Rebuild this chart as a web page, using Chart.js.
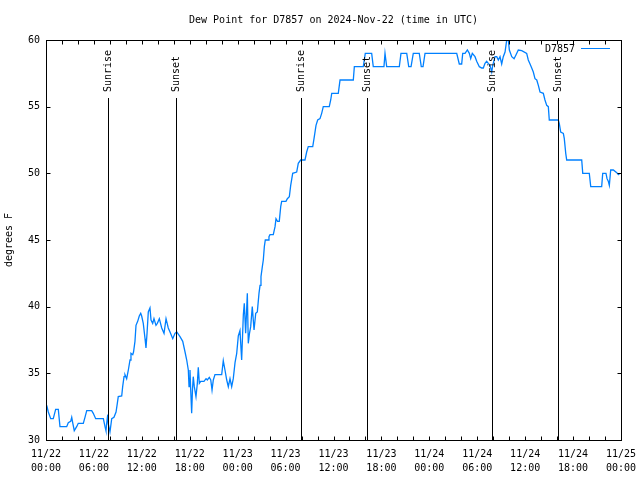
<!DOCTYPE html>
<html>
<head>
<meta charset="utf-8">
<script src="https://cdn.jsdelivr.net/npm/chart.js@4/dist/chart.umd.min.js"></script>
<style>
html,body{margin:0;padding:0;background:#fff;}
canvas{display:block;}
</style>
</head>
<body>
<canvas id="c" width="640" height="480"></canvas>
<script>
// hours since 2024-11-22 00:00 UTC
const hours = [0.09,0.29,0.59,0.91,1.21,1.54,1.75,2.59,2.79,3.09,3.22,3.34,3.54,3.84,4.04,4.67,4.88,5.10,5.72,5.92,6.22,7.18,7.39,7.51,7.60,7.73,7.80,8.01,8.23,8.51,8.77,8.93,9.05,9.48,9.60,9.77,9.89,10.10,10.31,10.52,10.64,10.86,10.96,11.14,11.27,11.48,11.68,11.86,11.98,12.18,12.40,12.52,12.65,12.81,13.02,13.15,13.36,13.52,13.77,13.94,14.19,14.49,14.78,15.03,15.31,15.53,15.87,16.15,16.37,16.78,17.12,17.41,17.62,17.82,17.91,18.03,18.12,18.24,18.34,18.44,18.57,18.78,18.95,19.07,19.20,19.37,19.78,20.04,20.20,20.45,20.63,20.79,20.95,21.16,22.00,22.20,22.41,22.63,22.83,23.04,23.25,23.45,23.67,23.88,24.08,24.29,24.50,24.71,24.83,25.00,25.21,25.33,25.48,25.63,25.83,26.05,26.26,26.46,26.67,26.80,26.92,27.09,27.21,27.34,27.46,27.84,27.92,28.05,28.46,28.68,28.80,28.99,29.21,29.39,29.51,30.05,30.22,30.47,30.64,30.89,31.39,31.59,31.89,32.43,32.64,32.84,33.40,33.56,33.81,34.02,34.31,34.52,34.72,35.47,35.65,35.78,36.60,36.73,36.82,38.48,38.61,39.73,39.98,40.78,40.98,42.32,42.45,42.66,44.24,44.45,45.17,45.42,45.71,45.99,46.74,46.99,47.21,47.46,51.43,51.63,51.75,52.05,52.18,52.47,52.76,53.01,53.18,53.38,53.72,53.93,54.26,54.56,54.76,54.97,55.18,55.38,55.60,55.81,55.94,56.23,56.44,56.64,56.85,57.06,57.26,57.48,57.69,57.89,58.02,58.32,58.61,58.86,59.14,59.57,60.19,60.39,60.61,60.82,61.02,61.23,61.45,61.65,61.86,62.27,62.48,62.70,62.90,63.02,64.15,64.27,64.45,64.78,64.90,65.08,65.20,67.08,67.21,68.03,68.21,69.58,69.71,70.12,70.25,70.41,70.54,70.71,71.04,71.47,71.67,71.88];
const dewPoint = [32.6,32.1,31.6,31.6,32.3,32.3,31.0,31.0,31.3,31.4,31.7,31.3,30.7,31.0,31.25,31.25,31.7,32.2,32.2,32.0,31.6,31.6,31.0,30.7,31.25,31.9,31.2,30.6,31.6,31.7,32.1,32.75,33.25,33.3,34.0,34.75,34.9,34.6,35.25,36.0,36.5,36.4,36.6,37.4,38.6,38.9,39.3,39.5,39.3,38.75,37.6,36.9,38.0,39.6,39.9,39.0,38.75,39.1,38.6,38.75,39.1,38.4,38.0,39.1,38.4,38.1,37.6,38.0,38.1,37.75,37.4,36.6,36.0,35.25,34.0,35.25,33.75,32.0,33.75,34.75,34.0,33.25,34.25,35.45,34.25,34.4,34.4,34.6,34.5,34.7,34.5,33.75,34.5,34.9,34.9,35.95,35.25,34.5,34.0,34.6,34.0,34.6,35.8,36.5,37.8,38.2,36.0,39.4,40.25,38.0,41.0,37.25,38.0,38.5,40.0,38.25,39.5,39.6,41.0,41.6,42.25,43.0,43.5,44.5,45.0,45.0,45.25,45.4,45.4,46.0,46.6,46.4,46.4,47.5,47.9,47.9,48.1,48.25,49.1,50.0,50.1,50.75,51.0,51.0,51.6,52.0,52.0,52.6,53.6,54.0,54.1,54.5,55.0,55.0,55.5,56.0,56.0,56.6,57.0,57.0,58.0,58.0,59.0,59.0,58.0,58.0,59.0,58.0,58.0,59.0,59.0,58.0,58.0,59.0,59.0,58.0,58.0,59.0,59.0,58.5,58.2,58.2,59.0,59.0,59.25,59.0,58.6,59.0,58.75,58.4,58.0,57.9,57.9,58.25,58.4,58.25,58.1,57.6,58.1,58.75,58.75,58.5,58.75,58.2,58.75,59.1,60.0,60.0,59.25,58.75,58.6,58.9,59.25,59.2,59.0,58.5,58.2,57.9,57.6,57.1,57.0,56.6,56.1,56.0,55.5,55.1,55.0,54.0,54.0,53.75,53.1,53.0,52.6,51.5,51.0,51.0,50.0,50.0,49.0,49.0,50.0,50.0,49.6,49.4,49.1,50.25,50.25,50.05,49.9,50.0];
const xTickLabels = [["11/22","00:00"],["11/22","06:00"],["11/22","12:00"],["11/22","18:00"],["11/23","00:00"],["11/23","06:00"],["11/23","12:00"],["11/23","18:00"],["11/24","00:00"],["11/24","06:00"],["11/24","12:00"],["11/24","18:00"],["11/25","00:00"]];
const yTicks = [30,35,40,45,50,55,60];
const eventHours = [7.80,16.24,31.89,40.23,55.89,64.15];
const eventLabels = ["Sunrise","Sunset","Sunrise","Sunset","Sunrise","Sunset"];
const seriesName = "D7857";
const titleText = "Dew Point for D7857 on 2024-Nov-22 (time in UTC)";
const yTitle = "degrees F";

const FONT = "'DejaVu Sans Mono', monospace";
const LINE_COLOR = "rgb(0,128,255)";

const overlay = {
  id: 'overlay',
  afterDatasetsDraw(chart) {
    const ctx = chart.ctx, a = chart.chartArea;
    const xs = chart.scales.x, ys = chart.scales.y;
    ctx.save();
    ctx.strokeStyle = '#000';
    ctx.lineWidth = 1;
    ctx.font = '10px ' + FONT;
    ctx.fillStyle = '#000';
    eventHours.forEach((h, i) => {
      const x = Math.round(xs.getPixelForValue(h)) + 0.5;
      ctx.beginPath();
      ctx.moveTo(x, a.bottom);
      ctx.lineTo(x, 98);
      ctx.stroke();
      ctx.save();
      ctx.translate(x, 92);
      ctx.rotate(-Math.PI / 2);
      ctx.textAlign = 'left';
      ctx.textBaseline = 'middle';
      ctx.fillText(eventLabels[i], 0, 0);
      ctx.restore();
    });
    const L = Math.round(a.left) + 0.5, R = Math.round(a.right) + 0.5;
    const T = Math.round(a.top) + 0.5, B = Math.round(a.bottom) + 0.5;
    ctx.strokeRect(L, T, R - L, B - T);
    xs.ticks.forEach(t => {
      const x = Math.round(xs.getPixelForValue(t.value)) + 0.5;
      ctx.beginPath();
      ctx.moveTo(x, B); ctx.lineTo(x, B - 4);
      ctx.moveTo(x, T); ctx.lineTo(x, T + 4);
      ctx.stroke();
    });
    ys.ticks.forEach(t => {
      const y = Math.round(ys.getPixelForValue(t.value)) + 0.5;
      ctx.beginPath();
      ctx.moveTo(L, y); ctx.lineTo(L + 4, y);
      ctx.moveTo(R, y); ctx.lineTo(R - 4, y);
      ctx.stroke();
    });
    ctx.textAlign = 'center';
    ctx.textBaseline = 'middle';
    ctx.fillText(titleText, (a.left + a.right) / 2, 20);
    ctx.save();
    ctx.translate(9, (a.top + a.bottom) / 2);
    ctx.rotate(-Math.PI / 2);
    ctx.textAlign = 'center';
    ctx.textBaseline = 'middle';
    ctx.fillText(yTitle, 0, 0);
    ctx.restore();
    ctx.textAlign = 'right';
    ctx.textBaseline = 'middle';
    ctx.fillText(seriesName, 575, 49);
    ctx.strokeStyle = LINE_COLOR;
    ctx.beginPath();
    ctx.moveTo(581, 48.5); ctx.lineTo(610, 48.5);
    ctx.stroke();
    ctx.restore();
  }
};

new Chart(document.getElementById('c'), {
  type: 'line',
  data: {
    datasets: [{
      label: seriesName,
      data: hours.map((h, i) => ({x: h, y: dewPoint[i]})),
      borderColor: LINE_COLOR,
      borderWidth: 1.3,
      pointRadius: 0,
      tension: 0,
      fill: false
    }]
  },
  options: {
    responsive: false,
    devicePixelRatio: 1,
    animation: false,
    layout: {padding: {top: 40, right: 19, left: 0, bottom: 0}},
    plugins: {legend: {display: false}, title: {display: false}, tooltip: {enabled: false}},
    scales: {
      x: {
        type: 'linear', min: 0, max: 72,
        grid: {display: false, drawTicks: false},
        border: {display: false},
        ticks: {
          stepSize: 2, autoSkip: false, maxRotation: 0, padding: 7,
          color: '#000',
          font: {family: FONT, size: 10, lineHeight: 1.4},
          callback: v => (v % 6 === 0 ? xTickLabels[v / 6] : '')
        },
        afterFit: s => { s.height = 40; s.paddingLeft = 0; s.paddingRight = 0; }
      },
      y: {
        type: 'linear', min: 30, max: 60,
        grid: {display: false, drawTicks: false},
        border: {display: false},
        afterBuildTicks: s => { s.ticks = yTicks.map(v => ({value: v})); },
        ticks: {
          padding: 6, color: '#000',
          font: {family: FONT, size: 10}
        },
        afterFit: s => { s.width = 46; s.paddingTop = 0; s.paddingBottom = 0; }
      }
    }
  },
  plugins: [overlay]
});
</script>
</body>
</html>
